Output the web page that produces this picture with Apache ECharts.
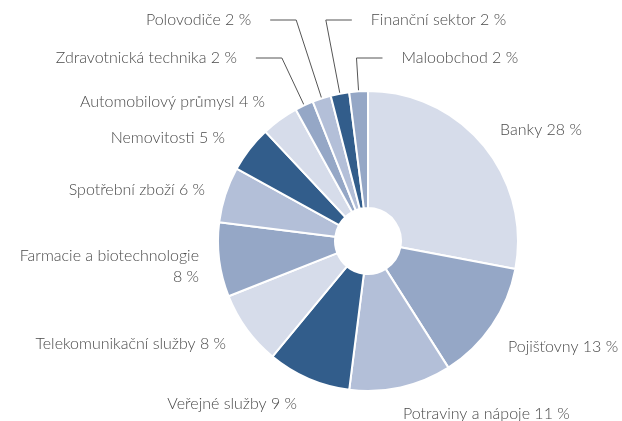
<!DOCTYPE html>
<html>
<head>
<meta charset="utf-8">
<script src="https://cdn.jsdelivr.net/npm/echarts@6/dist/echarts.min.js"></script>
<style>
  html, body { margin: 0; padding: 0; background: #fff; }
  #chart { width: 622px; height: 421px; }
</style>
</head>
<body>
<div id="chart"></div>
<script>
const sectors = [
  "Banky", "Pojišťovny", "Potraviny a nápoje", "Veřejné služby",
  "Telekomunikační služby", "Farmacie a biotechnologie", "Spotřební zboží",
  "Nemovitosti", "Automobilový průmysl", "Zdravotnická technika",
  "Polovodiče", "Finanční sektor", "Maloobchod",
];
const shares = [28, 13, 11, 9, 8, 8, 6, 5, 4, 2, 2, 2, 2];

// slice fills, repeating light / mid / pale / dark
const light = "#d6dcea", mid = "#95a7c6", pale = "#b3bfd8", dark = "#325d8b";
const sliceColors = [light, mid, pale, dark, light, mid, pale, dark, light, mid, pale, dark, mid];

const center = [368, 241];
const radius = [33, 150];

// where the plain labels sit: [x, y, align]
const labelPos = {
  0: [500, 130, "left"],
  1: [508, 347, "left"],
  2: [403, 414, "left"],
  3: [297, 404, "right"],
  4: [226, 344, "right"],
  5: [199, 266, "right"],
  6: [205, 190, "right"],
  7: [225, 138, "right"],
  8: [265, 102, "right"],
};
// small top slices get a leader line: [label y, side (-1 left, 1 right)]
const leaderPos = {
  9: [58, -1],
  10: [20, -1],
  11: [20, 1],
  12: [58, 1],
};

const total = shares.reduce((a, b) => a + b, 0);
function edgePoint(i) {
  let before = 0;
  for (let k = 0; k < i; k++) before += shares[k];
  const ang = ((before + shares[i] / 2) / total) * Math.PI * 2;
  const dx = Math.sin(ang), dy = -Math.cos(ang);
  return { x: center[0] + radius[1] * dx, y: center[1] + radius[1] * dy, dx, dy };
}

const chart = echarts.init(document.getElementById("chart"));
chart.setOption({
  animation: false,
  series: [
    {
      type: "pie",
      center,
      radius,
      startAngle: 90,
      clockwise: true,
      avoidLabelOverlap: false,
      itemStyle: { borderColor: "#fff", borderWidth: 2 },
      label: {
        show: true,
        position: "outside",
        fontFamily: "Lato",
        fontWeight: 300,
        fontSize: 16,
        color: "#4a4a4a",
        lineHeight: 21,
        formatter: (p) =>
          p.dataIndex === 5 ? p.name + "\n" + p.value + " %" : p.name + " " + p.value + " %",
      },
      labelLine: { show: false, lineStyle: { color: "#555", width: 1 } },
      labelLayout: (p) => {
        const i = p.dataIndex;
        if (labelPos[i]) {
          const [x, y, align] = labelPos[i];
          return { x, y, align, verticalAlign: "middle" };
        }
        const [ly, side] = leaderPos[i];
        const e = edgePoint(i);
        const t = (ly - e.y) / e.dy;
        const mx = e.x + t * e.dx;
        const ex = mx + side * 26;
        return {
          x: ex + side * 19,
          y: ly,
          align: side < 0 ? "right" : "left",
          verticalAlign: "middle",
          labelLinePoints: [[e.x, e.y], [mx, ly], [ex, ly]],
        };
      },
      data: sectors.map((name, i) => ({
        name,
        value: shares[i],
        itemStyle: { color: sliceColors[i] },
        labelLine: { show: leaderPos[i] != null },
      })),
    },
  ],
});
</script>
</body>
</html>
